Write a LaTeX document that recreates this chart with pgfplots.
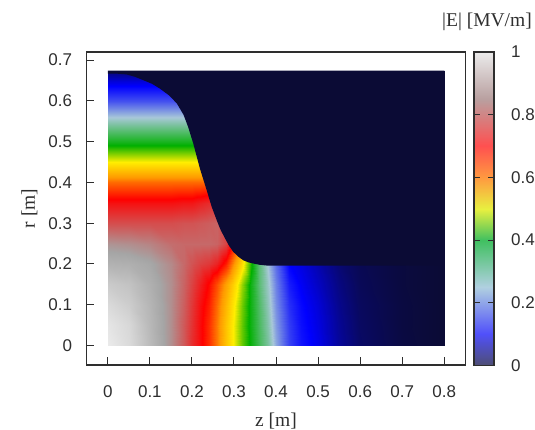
\documentclass[border=0pt]{standalone}
\usepackage{fontspec}
\setmainfont{Liberation Sans}
\newfontfamily\serifl{Liberation Serif}
\usepackage{pgfplots}
\pgfplotsset{compat=1.18}
\definecolor{ink}{HTML}{2E2E2E}
\definecolor{navy}{RGB}{11,11,53}
\pgfplotsset{
 colormap={field}{rgb255(0pt)=(11,11,53); rgb255(10pt)=(0,0,255); rgb255(25pt)=(168,200,216); rgb255(40pt)=(0,176,0); rgb255(50pt)=(255,238,0); rgb255(60pt)=(255,153,0); rgb255(70pt)=(255,0,0); rgb255(85pt)=(165,165,165); rgb255(100pt)=(245,245,245)},
 colormap={pale}{rgb255(0pt)=(78,78,118); rgb255(10pt)=(80,80,250); rgb255(25pt)=(176,208,224); rgb255(40pt)=(64,192,96); rgb255(50pt)=(232,240,64); rgb255(60pt)=(255,153,64); rgb255(70pt)=(255,80,80); rgb255(85pt)=(185,160,160); rgb255(100pt)=(235,235,235)},
 common/.style={scale only axis, axis line style={ink,line width=1.6pt}, tick style={ink,line width=1pt},
   tick align=inside, major tick length=7.5pt, tick label style={font=\fontsize{17}{19}\selectfont,text=ink},
   /pgf/number format/assume math mode=true, /pgf/number format/fixed, point meta min=0, point meta max=1}
}
\begin{document}
\begin{tikzpicture}[x=1pt,y=1pt]
\useasboundingbox (0,0) rectangle (535,430);
\begin{axis}[common, at={(86.5pt,65pt)}, anchor=south west, width=379pt, height=313pt,
  xmin=-0.0507, xmax=0.8505, ymin=-0.048, ymax=0.72,
  xtick={0,0.1,...,0.8}, ytick={0,0.1,...,0.7}, xtick pos=bottom, ytick pos=left,
  xticklabels={0,0.1,0.2,0.3,0.4,0.5,0.6,0.7,0.8}, yticklabels={0,0.1,0.2,0.3,0.4,0.5,0.6,0.7},
  xticklabel style={yshift=-17pt}, yticklabel style={xshift=-11pt},
  xlabel={\serifl z [m]}, ylabel={\serifl r [m]},
  xlabel style={font=\fontsize{19.5}{21}\selectfont,text=ink,yshift=-9pt},
  ylabel style={font=\fontsize{19.5}{21}\selectfont,text=ink,yshift=4pt},
  axis on top, colormap name=field]
\addplot[surf,shader=interp,mesh/ordering=x varies,mesh/cols=23,point meta=\thisrow{v}] table[x=z,y=r,row sep=\\]{
z r v\\
0 0 .98\\ .05 0 .95\\ .10 0 .89\\ .15 0 .83\\ .18 0 .78\\ .20 0 .74\\ .22 0 .71\\ .24 0 .67\\ .26 0 .62\\ .28 0 .55\\ .30 0 .495\\ .32 0 .44\\ .34 0 .39\\ .36 0 .34\\ .38 0 .29\\ .40 0 .225\\ .43 0 .15\\ .46 0 .115\\ .50 0 .09\\ .55 0 .05\\ .60 0 .024\\ .70 0 .007\\ .80 0 0\\
0 .05 .97\\ .05 .05 .945\\ .10 .05 .885\\ .15 .05 .83\\ .18 .05 .78\\ .20 .05 .745\\ .22 .05 .71\\ .24 .05 .67\\ .26 .05 .62\\ .28 .05 .55\\ .30 .05 .495\\ .32 .05 .44\\ .34 .05 .385\\ .36 .05 .335\\ .38 .05 .28\\ .40 .05 .215\\ .43 .05 .145\\ .46 .05 .11\\ .50 .05 .085\\ .55 .05 .047\\ .60 .05 .022\\ .70 .05 .006\\ .80 .05 0\\
0 .10 .95\\ .05 .10 .925\\ .10 .10 .88\\ .15 .10 .83\\ .18 .10 .785\\ .20 .10 .75\\ .22 .10 .715\\ .24 .10 .68\\ .26 .10 .63\\ .28 .10 .565\\ .30 .10 .505\\ .32 .10 .445\\ .34 .10 .385\\ .36 .10 .33\\ .38 .10 .27\\ .40 .10 .205\\ .43 .10 .135\\ .46 .10 .105\\ .50 .10 .08\\ .55 .10 .043\\ .60 .10 .02\\ .70 .10 .006\\ .80 .10 0\\
0 .15 .92\\ .05 .15 .905\\ .10 .15 .87\\ .15 .15 .83\\ .18 .15 .79\\ .20 .15 .76\\ .22 .15 .73\\ .24 .15 .695\\ .26 .15 .65\\ .28 .15 .59\\ .30 .15 .53\\ .32 .15 .46\\ .34 .15 .385\\ .36 .15 .32\\ .38 .15 .26\\ .40 .15 .195\\ .43 .15 .12\\ .46 .15 .095\\ .50 .15 .07\\ .55 .15 .037\\ .60 .15 .017\\ .70 .15 .005\\ .80 .15 0\\
0 .20 .875\\ .05 .20 .87\\ .10 .20 .855\\ .15 .20 .825\\ .18 .20 .795\\ .20 .20 .775\\ .22 .20 .76\\ .24 .20 .75\\ .26 .20 .73\\ .28 .20 .68\\ .30 .20 .60\\ .32 .20 .52\\ .34 .20 .41\\ .36 .20 .32\\ .38 .20 .245\\ .40 .20 .18\\ .43 .20 .10\\ .46 .20 .085\\ .50 .20 .06\\ .55 .20 .03\\ .60 .20 .015\\ .70 .20 .005\\ .80 .20 0\\
0 .25 .835\\ .05 .25 .83\\ .10 .25 .82\\ .15 .25 .80\\ .18 .25 .795\\ .20 .25 .795\\ .22 .25 .795\\ .24 .25 .795\\ .26 .25 .79\\ .28 .25 .76\\ .30 .25 .68\\ .32 .25 .55\\ .34 .25 .42\\ .36 .25 .30\\ .38 .25 .23\\ .40 .25 .17\\ .43 .25 .10\\ .46 .25 .08\\ .50 .25 .05\\ .55 .25 .03\\ .60 .25 .02\\ .70 .25 .01\\ .80 .25 0\\
0 .30 .77\\ .05 .30 .77\\ .10 .30 .77\\ .15 .30 .77\\ .18 .30 .775\\ .20 .30 .775\\ .22 .30 .78\\ .24 .30 .785\\ .26 .30 .79\\ .28 .30 .79\\ .30 .30 .78\\ .32 .30 .7\\ .34 .30 .5\\ .36 .30 .3\\ .38 .30 .2\\ .40 .30 .1\\ .43 .30 .05\\ .46 .30 .03\\ .50 .30 .02\\ .55 .30 .01\\ .60 .30 0\\ .70 .30 0\\ .80 .30 0\\
0 .35 .715\\ .05 .35 .715\\ .10 .35 .715\\ .15 .35 .715\\ .18 .35 .72\\ .20 .35 .72\\ .22 .35 .73\\ .24 .35 .74\\ .26 .35 .74\\ .28 .35 .74\\ .30 .35 .74\\ .32 .35 .7\\ .34 .35 .5\\ .36 .35 .3\\ .38 .35 .2\\ .40 .35 .1\\ .43 .35 .05\\ .46 .35 .03\\ .50 .35 .02\\ .55 .35 .01\\ .60 .35 0\\ .70 .35 0\\ .80 .35 0\\
0 .40 .63\\ .05 .40 .63\\ .10 .40 .63\\ .15 .40 .63\\ .18 .40 .63\\ .20 .40 .63\\ .22 .40 .63\\ .24 .40 .63\\ .26 .40 .63\\ .28 .40 .63\\ .30 .40 .63\\ .32 .40 .6\\ .34 .40 .5\\ .36 .40 .3\\ .38 .40 .2\\ .40 .40 .1\\ .43 .40 .05\\ .46 .40 .03\\ .50 .40 .02\\ .55 .40 .01\\ .60 .40 0\\ .70 .40 0\\ .80 .40 0\\
0 .45 .50\\ .05 .45 .50\\ .10 .45 .50\\ .15 .45 .50\\ .18 .45 .50\\ .20 .45 .50\\ .22 .45 .50\\ .24 .45 .50\\ .26 .45 .50\\ .28 .45 .50\\ .30 .45 .50\\ .32 .45 .5\\ .34 .45 .4\\ .36 .45 .3\\ .38 .45 .2\\ .40 .45 .1\\ .43 .45 .05\\ .46 .45 .03\\ .50 .45 .02\\ .55 .45 .01\\ .60 .45 0\\ .70 .45 0\\ .80 .45 0\\
0 .50 .38\\ .05 .50 .38\\ .10 .50 .38\\ .15 .50 .38\\ .18 .50 .38\\ .20 .50 .38\\ .22 .50 .38\\ .24 .50 .38\\ .26 .50 .38\\ .28 .50 .38\\ .30 .50 .38\\ .32 .50 .38\\ .34 .50 .38\\ .36 .50 .3\\ .38 .50 .2\\ .40 .50 .1\\ .43 .50 .05\\ .46 .50 .03\\ .50 .50 .02\\ .55 .50 .01\\ .60 .50 0\\ .70 .50 0\\ .80 .50 0\\
0 .55 .27\\ .05 .55 .27\\ .10 .55 .27\\ .15 .55 .27\\ .18 .55 .27\\ .20 .55 .27\\ .22 .55 .27\\ .24 .55 .27\\ .26 .55 .27\\ .28 .55 .27\\ .30 .55 .27\\ .32 .55 .27\\ .34 .55 .27\\ .36 .55 .27\\ .38 .55 .2\\ .40 .55 .1\\ .43 .55 .05\\ .46 .55 .03\\ .50 .55 .02\\ .55 .55 .01\\ .60 .55 0\\ .70 .55 0\\ .80 .55 0\\
0 .60 .16\\ .05 .60 .16\\ .10 .60 .16\\ .15 .60 .16\\ .18 .60 .16\\ .20 .60 .16\\ .22 .60 .16\\ .24 .60 .16\\ .26 .60 .16\\ .28 .60 .16\\ .30 .60 .16\\ .32 .60 .16\\ .34 .60 .16\\ .36 .60 .16\\ .38 .60 .16\\ .40 .60 .1\\ .43 .60 .05\\ .46 .60 .03\\ .50 .60 .02\\ .55 .60 .01\\ .60 .60 0\\ .70 .60 0\\ .80 .60 0\\
0 .65 .08\\ .05 .65 .08\\ .10 .65 .08\\ .15 .65 .08\\ .18 .65 .08\\ .20 .65 .08\\ .22 .65 .08\\ .24 .65 .08\\ .26 .65 .08\\ .28 .65 .08\\ .30 .65 .08\\ .32 .65 .08\\ .34 .65 .08\\ .36 .65 .08\\ .38 .65 .08\\ .40 .65 .08\\ .43 .65 .05\\ .46 .65 .03\\ .50 .65 .02\\ .55 .65 .01\\ .60 .65 0\\ .70 .65 0\\ .80 .65 0\\
0 .674 .03\\ .05 .674 .03\\ .10 .674 .03\\ .15 .674 .03\\ .18 .674 .03\\ .20 .674 .03\\ .22 .674 .03\\ .24 .674 .03\\ .26 .674 .03\\ .28 .674 .03\\ .30 .674 .03\\ .32 .674 .03\\ .34 .674 .03\\ .36 .674 .03\\ .38 .674 .03\\ .40 .674 .03\\ .43 .674 .03\\ .46 .674 .03\\ .50 .674 .02\\ .55 .674 .01\\ .60 .674 0\\ .70 .674 0\\ .80 .674 0\\
};
\addplot[fill=navy,draw=none,forget plot] coordinates {(0,.674) (0,.667) (.02,.667) (.0445,.665) (.065,.659) (.084,.651) (.105,.642) (.124,.630) (.145,.614) (.164,.594) (.18,.566) (.191,.536) (.203,.496) (.219,.434) (.235,.381) (.247,.340) (.259,.307) (.268,.284) (.279,.262) (.288,.245) (.298,.230) (.31,.218) (.322,.209) (.334,.204) (.346,.201) (.36,.198) (.378,.196) (.8,.196) (.8,.674)} --cycle;
\end{axis}
\begin{axis}[common, at={(474pt,64.5pt)}, anchor=south west, width=20pt, height=313.5pt,
  xmin=0, xmax=1, ymin=0, ymax=1, xtick=\empty, ytick={0,0.2,0.4,0.6,0.8,1},
  yticklabels={0,0.2,0.4,0.6,0.8,1},
  ytick pos=both, yticklabel pos=right, major tick length=6pt,
  yticklabel style={anchor=west,inner sep=0pt,xshift=17pt},
  axis on top, colormap name=pale]
\addplot[surf,shader=interp,mesh/ordering=x varies,mesh/cols=2,point meta=y] table[row sep=\\]{
x y\\ 0 0\\ 1 0\\ 0 .25\\ 1 .25\\ 0 .5\\ 1 .5\\ 0 .75\\ 1 .75\\ 0 1\\ 1 1\\
};
\end{axis}
\node[anchor=base east,inner sep=0pt,text=ink,font=\fontsize{19.5}{21}\selectfont\serifl] at (532,403.5) {|E| [MV/m]};
\end{tikzpicture}
\end{document}
